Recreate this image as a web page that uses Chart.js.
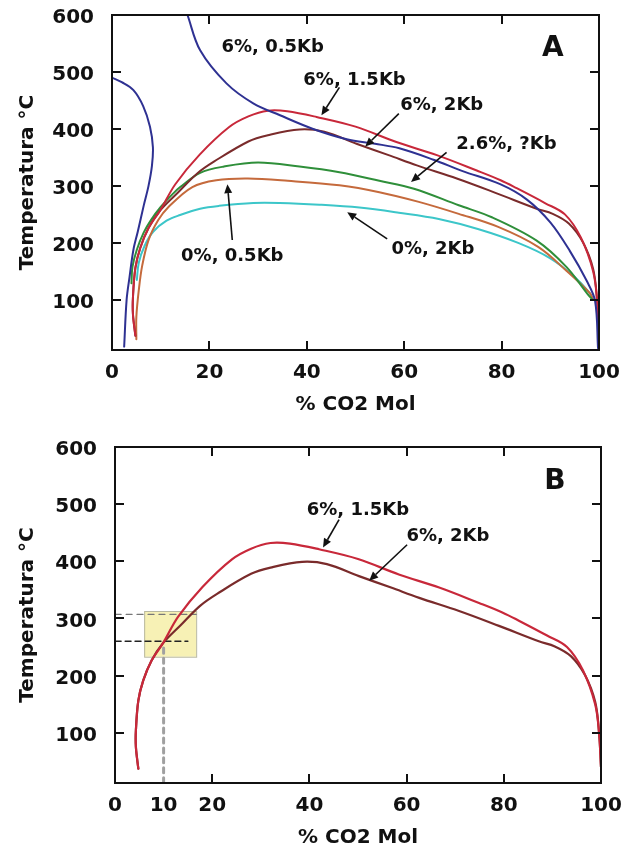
<!DOCTYPE html>
<html><head><meta charset="utf-8">
<script src="https://cdn.jsdelivr.net/npm/chart.js@4/dist/chart.umd.min.js"></script>
<style>
html,body{margin:0;padding:0;background:#fff;}
body{width:624px;height:855px;position:relative;overflow:hidden;}
canvas{position:absolute;left:0;}
#cA{top:0}
#cB{top:430px}
</style></head><body>
<canvas id="cA" width="624" height="425"></canvas>
<canvas id="cB" width="624" height="425"></canvas>
<script>
// ---------- tick labels ----------
const xTicksA = [0, 20, 40, 60, 80, 100];
const xTicksB = [0, 10, 20, 40, 60, 80, 100];
const yTicks = [100, 200, 300, 400, 500, 600];
const innerXTicks = [20, 40, 60, 80];
const innerYTicks = [100, 200, 300, 400, 500];

// ---------- series (x = % CO2 mol, T = temperature °C) ----------
// 6%, 0.5Kb  (two branches)
const blueLeftX = [0, 2, 4.4, 6.4, 7.8, 8.4, 8.2, 7.5, 6.5, 5.3, 4.4, 3.6, 3.0, 2.5];
const blueLeftT = [490, 482, 468, 440, 404, 368, 335, 300, 265, 220, 188, 140, 100, 18];
const blueRightX = [15.5, 18.1, 23.5, 29, 34.5, 41.3, 48.2, 54, 59, 66, 72, 79.7, 85.2, 90, 94, 97.5, 99.2, 99.8];
const blueRightT = [600, 538, 480, 445, 424, 400, 382, 374, 366, 346, 326, 303, 276, 236, 186, 133, 98, 15];
// 6%, 1.5Kb
const red15X = [4.8, 4.3, 4.3, 4.8, 5.8, 7.5, 9.9, 13, 18, 24, 28, 32, 36, 42, 50, 58.4, 66.7, 74.9, 79.8, 83.1, 88.9, 93, 96.3, 98.8, 99.6, 100];
const red15T = [37, 75, 104, 156, 191, 226, 257, 303, 355, 403, 422, 432, 431, 421, 404, 377, 354, 327, 310, 296, 270, 250, 209, 150, 100, 40];
// 6%, 2Kb
const brown2X = [4.8, 4.3, 4.3, 4.8, 5.8, 7.5, 9.9, 13.5, 17.5, 21, 28, 32, 38.5, 43.6, 50.2, 56.8, 62.6, 70.8, 79, 87.2, 90.5, 93.8, 96.7, 98.8, 99.6, 100];
const brown2T = [37, 75, 104, 156, 191, 226, 257, 288, 322, 343, 378, 389, 399, 395, 374, 354, 336, 313, 287, 260, 251, 234, 201, 154, 100, 40];
// 2.6%, ?Kb
const greenX = [4.0, 4.2, 5.1, 6.5, 8, 10, 12.6, 14, 18.1, 23, 30, 38.5, 46.7, 54.9, 62, 71.2, 78, 87.2, 93.3, 97.5, 98.7];
const greenT = [129, 158, 188, 218, 240, 263, 287, 298, 323, 334, 341, 334, 324, 309, 295, 266, 245, 204, 158, 112, 100];
// 0%, 0.5Kb
const siennaX = [5.0, 5.0, 5.5, 6.2, 7.5, 9.5, 11.6, 16.5, 21.4, 27.9, 36.1, 46.7, 54.9, 63, 71.2, 79.3, 87.5, 93.2, 98.1, 98.8];
const siennaT = [31, 70, 117, 160, 205, 240, 263, 298, 310, 313, 309, 301, 289, 272, 251, 228, 193, 152, 112, 100];
// 0%, 2Kb
const cyanX = [5.1, 5.5, 6.7, 8.5, 11.2, 14, 18.1, 22, 29, 34.4, 42.6, 50.8, 58.9, 67.1, 75.3, 83.4, 90, 94.9, 98.1, 98.8];
const cyanT = [135, 165, 195, 220, 239, 249, 260, 265, 270, 270, 267, 262, 253, 242, 224, 200, 173, 141, 112, 100];

// ---------- panel B guides ----------
const guideUpperX = [0, 16.7], guideUpperT = [307, 307];
const guideLowerX = [0, 15], guideLowerT = [260, 260];
const guideVertX = [10, 10], guideVertT = [12, 255];
const boxX = [6, 16.7], boxT = [233, 313];

// ---------- annotations ----------
const labelsA = [
  {t: '6%, 0.5Kb', x: 33, y: 543},
  {t: '6%, 1.5Kb', x: 49.8, y: 486},
  {t: '6%, 2Kb', x: 67.7, y: 441},
  {t: '2.6%, ?Kb', x: 81, y: 373},
  {t: '0%, 2Kb', x: 65.9, y: 188},
  {t: '0%, 0.5Kb', x: 24.7, y: 176}
];
const arrowsA = [
  [46.7, 473, 43, 424],
  [58.9, 427, 52, 369],
  [68.7, 359, 61.4, 307],
  [56.5, 207, 48.3, 254],
  [24.7, 205, 23.7, 303]
];
const labelsB = [
  {t: '6%, 1.5Kb', x: 50, y: 489},
  {t: '6%, 2Kb', x: 68.5, y: 443}
];
const arrowsB = [
  [46.1, 473, 42.8, 424],
  [60.1, 429, 52.3, 366]
];

const FONT = '"DejaVu Sans", "Liberation Sans", Arial, sans-serif';
const toPts = (xs, ys) => xs.map((x, i) => ({x: x, y: ys[i]}));

function line(label, xs, ys, color, width, dash) {
  return {
    label: label, data: toPts(xs, ys), showLine: true, borderColor: color,
    backgroundColor: color, borderWidth: width || 2, pointRadius: 0,
    tension: 0.35, fill: false, borderDash: dash || [], borderCapStyle: 'round'
  };
}

function zeroPad(s) { s.paddingTop = 0; s.paddingBottom = 0; s.paddingLeft = 0; s.paddingRight = 0; }

function makePlugin(cfg) {
  return {
    id: 'frameMarks',
    beforeDatasetsDraw(chart) {
      if (!cfg.box) return;
      const {ctx, scales: {x, y}} = chart;
      const x0 = x.getPixelForValue(cfg.box[0][0]), x1 = x.getPixelForValue(cfg.box[0][1]);
      const y0 = y.getPixelForValue(cfg.box[1][1]), y1 = y.getPixelForValue(cfg.box[1][0]);
      ctx.save();
      ctx.fillStyle = '#f7f1b5';
      ctx.fillRect(x0, y0, x1 - x0, y1 - y0);
      ctx.strokeStyle = '#b8b8a0';
      ctx.lineWidth = 1;
      ctx.strokeRect(x0 + 0.5, y0 + 0.5, x1 - x0, y1 - y0);
      ctx.restore();
    },
    afterDatasetsDraw(chart) {
      const {ctx, chartArea: a, scales: {x, y}} = chart;
      ctx.save();
      // frame
      ctx.strokeStyle = '#111';
      ctx.lineWidth = 2;
      ctx.strokeRect(a.left, a.top, a.right - a.left, a.bottom - a.top);
      // inward ticks
      const L = 9;
      ctx.beginPath();
      innerXTicks.forEach(v => {
        const px = Math.round(x.getPixelForValue(v));
        ctx.moveTo(px, a.top); ctx.lineTo(px, a.top + L);
        ctx.moveTo(px, a.bottom); ctx.lineTo(px, a.bottom - L);
      });
      innerYTicks.forEach(v => {
        const py = Math.round(y.getPixelForValue(v));
        ctx.moveTo(a.left, py); ctx.lineTo(a.left + L, py);
        ctx.moveTo(a.right, py); ctx.lineTo(a.right - L, py);
      });
      ctx.stroke();
      // arrows
      ctx.fillStyle = '#111';
      ctx.lineWidth = 1.6;
      cfg.arrows.forEach(ar => {
        const x0 = x.getPixelForValue(ar[0]), y0 = y.getPixelForValue(ar[1]);
        const x1 = x.getPixelForValue(ar[2]), y1 = y.getPixelForValue(ar[3]);
        const ang = Math.atan2(y1 - y0, x1 - x0);
        const hl = 9, hw = 4;
        const bx = x1 - hl * Math.cos(ang), by = y1 - hl * Math.sin(ang);
        ctx.beginPath(); ctx.moveTo(x0, y0); ctx.lineTo(bx, by); ctx.stroke();
        ctx.beginPath();
        ctx.moveTo(x1, y1);
        ctx.lineTo(bx + hw * Math.sin(ang), by - hw * Math.cos(ang));
        ctx.lineTo(bx - hw * Math.sin(ang), by + hw * Math.cos(ang));
        ctx.closePath(); ctx.fill();
      });
      // labels
      ctx.font = 'bold 18px ' + FONT;
      ctx.textAlign = 'center';
      ctx.textBaseline = 'middle';
      cfg.labels.forEach(lb => {
        ctx.fillText(lb.t, x.getPixelForValue(lb.x), y.getPixelForValue(lb.y));
      });
      ctx.font = 'bold 28px ' + FONT;
      ctx.fillText(cfg.letter, x.getPixelForValue(90.5), y.getPixelForValue(540));
      ctx.restore();
    }
  };
}

function makeChart(id, opt) {
  return new Chart(document.getElementById(id), {
    type: 'scatter',
    data: {datasets: opt.datasets},
    options: {
      responsive: false, animation: false, devicePixelRatio: 1,
      layout: {padding: {top: opt.padTop, right: opt.padRight, left: 0, bottom: 0}},
      plugins: {legend: {display: false}, tooltip: {enabled: false}},
      scales: {
        x: {
          type: 'linear', min: 0, max: 100,
          afterBuildTicks: s => { s.ticks = opt.xTicks.map(v => ({value: v})); },
          afterFit: s => { s.height = opt.xHeight; zeroPad(s); },
          grid: {display: false, drawTicks: false},
          border: {display: false},
          ticks: {color: '#111', padding: 11, font: {family: FONT, size: 20, weight: 'bold'}},
          title: {display: true, text: '% CO2 Mol', color: '#111',
                  font: {family: FONT, size: 20, weight: 'bold'}, padding: {top: 0, bottom: opt.titleBottom}}
        },
        y: {
          type: 'linear', min: 12, max: 600,
          afterBuildTicks: s => { s.ticks = yTicks.map(v => ({value: v})); },
          afterFit: s => { s.width = opt.yWidth; zeroPad(s); },
          grid: {display: false, drawTicks: false},
          border: {display: false},
          ticks: {color: '#111', padding: 18, labelOffset: 3, font: {family: FONT, size: 20, weight: 'bold'}},
          title: {display: true, text: 'Temperatura °C', color: '#111',
                  font: {family: FONT, size: 20, weight: 'bold'}, padding: {top: 16, bottom: 0}}
        }
      }
    },
    plugins: [makePlugin(opt.plugin)]
  });
}

const RED = '#c8283a', BROWN = '#7a2b2b', BLUE = '#2e3192', GREEN = '#2f8f3a', SIENNA = '#c56a3c', CYAN = '#3cc6c9';

makeChart('cA', {
  datasets: [
    line('6%, 0.5Kb', blueRightX, blueRightT, BLUE),
    line('6%, 0.5Kb b', blueLeftX, blueLeftT, BLUE),
    line('6%, 1.5Kb', red15X, red15T, RED),
    line('6%, 2Kb', brown2X, brown2T, BROWN),
    line('2.6%, ?Kb', greenX, greenT, GREEN),
    line('0%, 0.5Kb', siennaX, siennaT, SIENNA),
    line('0%, 2Kb', cyanX, cyanT, CYAN)
  ],
  xTicks: xTicksA, padTop: 15, padRight: 25, xHeight: 75, yWidth: 112, titleBottom: 8,
  plugin: {labels: labelsA, arrows: arrowsA, letter: 'A', box: null}
});

makeChart('cB', {
  datasets: [
    line('6%, 1.5Kb', red15X, red15T, RED, 2.2),
    line('6%, 2Kb', brown2X, brown2T, BROWN, 2.2),
    line('guide upper', guideUpperX, guideUpperT, '#777', 1.2, [6, 5]),
    line('guide lower', guideLowerX, guideLowerT, '#222', 1.4, [6, 4]),
    line('guide vertical', guideVertX, guideVertT, '#a0a0a0', 3, [5, 5])
  ],
  xTicks: xTicksB, padTop: 17, padRight: 23, xHeight: 72, yWidth: 115, titleBottom: 5,
  plugin: {labels: labelsB, arrows: arrowsB, letter: 'B', box: [boxX, boxT]}
});
</script>
</body></html>
